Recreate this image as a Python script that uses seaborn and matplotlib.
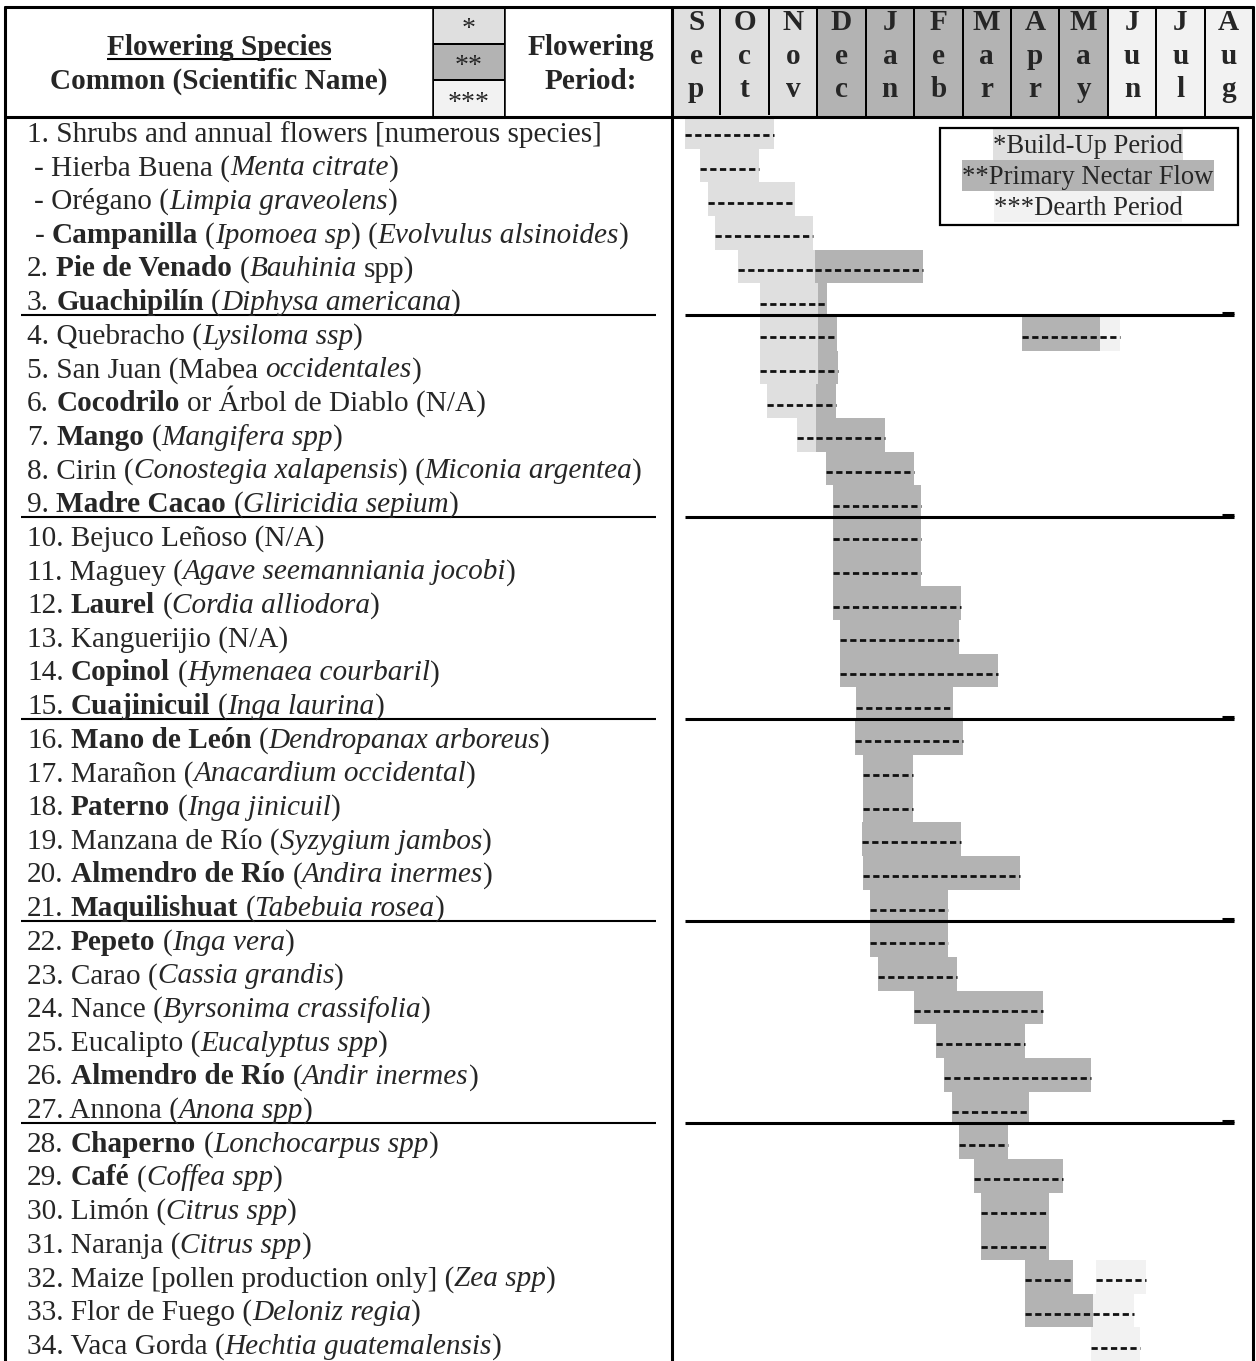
import matplotlib
matplotlib.use("Agg")
import numpy as np
import pandas as pd
import matplotlib.pyplot as plt
from matplotlib.colors import ListedColormap
from matplotlib.patches import Rectangle
import seaborn as sns

# ---------------- data ----------------
months = ["Sep", "Oct", "Nov", "Dec", "Jan", "Feb", "Mar", "Apr", "May", "Jun", "Jul", "Aug"]
month_phase = [0, 0, 0, 1, 1, 1, 1, 1, 1, 2, 2, 2]
phase_stars = ["*", "**", "***"]
phase_labels = ["*Build-Up Period", "**Primary Nectar Flow", "***Dearth Period"]
phase_colors = ["#dfdfdf", "#b3b3b3", "#f2f2f2"]

header_species = ["Flowering Species", "Common (Scientific Name)"]
header_period = ["Flowering", "Period:"]

species = [
    [("1. Shrubs and annual flowers [numerous species]", "n")],
    [(" - Hierba Buena (", "n"), ("Menta citrate", "i"), (")", "n")],
    [(" - Orégano (", "n"), ("Limpia graveolens", "i"), (")", "n")],
    [(" - ", "n"), ("Campanilla", "b"), (" (", "n"), ("Ipomoea sp", "i"), (") (", "n"), ("Evolvulus alsinoides", "i"), (")", "n")],
    [("2. ", "n"), ("Pie de Venado", "b"), (" (", "n"), ("Bauhinia", "i"), (" spp)", "n")],
    [("3. ", "n"), ("Guachipilín", "b"), (" (", "n"), ("Diphysa americana", "i"), (")", "n")],
    [("4. Quebracho (", "n"), ("Lysiloma ssp", "i"), (")", "n")],
    [("5. San Juan (Mabea ", "n"), ("occidentales", "i"), (")", "n")],
    [("6. ", "n"), ("Cocodrilo", "b"), (" or Árbol de Diablo (N/A)", "n")],
    [("7. ", "n"), ("Mango", "b"), (" (", "n"), ("Mangifera spp", "i"), (")", "n")],
    [("8. Cirin (", "n"), ("Conostegia xalapensis", "i"), (") (", "n"), ("Miconia argentea", "i"), (")", "n")],
    [("9. ", "n"), ("Madre Cacao", "b"), (" (", "n"), ("Gliricidia sepium", "i"), (")", "n")],
    [("10. Bejuco Leñoso (N/A)", "n")],
    [("11. Maguey (", "n"), ("Agave seemanniania jocobi", "i"), (")", "n")],
    [("12. ", "n"), ("Laurel", "b"), (" (", "n"), ("Cordia alliodora", "i"), (")", "n")],
    [("13. Kanguerijio (N/A)", "n")],
    [("14. ", "n"), ("Copinol", "b"), (" (", "n"), ("Hymenaea courbaril", "i"), (")", "n")],
    [("15. ", "n"), ("Cuajinicuil", "b"), (" (", "n"), ("Inga laurina", "i"), (")", "n")],
    [("16. ", "n"), ("Mano de León", "b"), (" (", "n"), ("Dendropanax arboreus", "i"), (")", "n")],
    [("17. Marañon (", "n"), ("Anacardium occidental", "i"), (")", "n")],
    [("18. ", "n"), ("Paterno", "b"), (" (", "n"), ("Inga jinicuil", "i"), (")", "n")],
    [("19. Manzana de Río (", "n"), ("Syzygium jambos", "i"), (")", "n")],
    [("20. ", "n"), ("Almendro de Río", "b"), (" (", "n"), ("Andira inermes", "i"), (")", "n")],
    [("21. ", "n"), ("Maquilishuat", "b"), (" (", "n"), ("Tabebuia rosea", "i"), (")", "n")],
    [("22. ", "n"), ("Pepeto", "b"), (" (", "n"), ("Inga vera", "i"), (")", "n")],
    [("23. Carao (", "n"), ("Cassia grandis", "i"), (")", "n")],
    [("24. Nance (", "n"), ("Byrsonima crassifolia", "i"), (")", "n")],
    [("25. Eucalipto (", "n"), ("Eucalyptus spp", "i"), (")", "n")],
    [("26. ", "n"), ("Almendro de Río", "b"), (" (", "n"), ("Andir inermes", "i"), (")", "n")],
    [("27. Annona (", "n"), ("Anona spp", "i"), (")", "n")],
    [("28. ", "n"), ("Chaperno", "b"), (" (", "n"), ("Lonchocarpus spp", "i"), (")", "n")],
    [("29. ", "n"), ("Café", "b"), (" (", "n"), ("Coffea spp", "i"), (")", "n")],
    [("30. Limón (", "n"), ("Citrus spp", "i"), (")", "n")],
    [("31. Naranja (", "n"), ("Citrus spp", "i"), (")", "n")],
    [("32. Maize [pollen production only] (", "n"), ("Zea spp", "i"), (")", "n")],
    [("33. Flor de Fuego (", "n"), ("Deloniz regia", "i"), (")", "n")],
    [("34. Vaca Gorda (", "n"), ("Hechtia guatemalensis", "i"), (")", "n")],
]
underlined_rows = [5, 11, 17, 23, 29]

# flowering segments (row index, start / end in months from start of Sep, phase)
seg_row = [0, 1, 2, 3, 4, 4, 5, 5, 6, 6, 6, 6, 7, 7, 8, 8, 9, 9,
           10, 11, 12, 13, 14, 15, 16, 17, 18, 19, 20, 21, 22, 23, 24, 25,
           26, 27, 28, 29, 30, 31, 32, 33, 34, 34, 35, 35, 36]
seg_start = [0.27, 0.58, 0.74, 0.89, 1.36, 2.95, 1.81, 3.01, 1.81, 3.01, 7.23, 8.84,
             1.81, 3.01, 1.96, 2.98, 2.58, 2.98,
             3.18, 3.33, 3.33, 3.33, 3.33, 3.47, 3.47, 3.80, 3.78, 3.95, 3.95, 3.93,
             3.95, 4.09, 4.09, 4.26, 5.00, 5.46, 5.61, 5.78, 5.92, 6.24, 6.38, 6.38,
             7.29, 8.76, 7.29, 8.70, 8.66]
seg_end = [2.10, 1.80, 2.54, 2.91, 2.95, 5.19, 3.01, 3.20, 3.01, 3.40, 8.84, 9.26,
           3.01, 3.43, 2.98, 3.39, 2.98, 4.40,
           5.00, 5.14, 5.14, 5.14, 5.96, 5.93, 6.74, 5.81, 6.02, 4.97, 4.97, 5.96,
           7.19, 5.70, 5.71, 5.89, 7.67, 7.29, 8.66, 7.38, 6.94, 8.07, 7.79, 7.79,
           8.29, 9.79, 8.70, 9.54, 9.67]
seg_phase = [0, 0, 0, 0, 0, 1, 0, 1, 0, 1, 1, 2, 0, 1, 0, 1, 0, 1,
             1, 1, 1, 1, 1, 1, 1, 1, 1, 1, 1, 1, 1, 1, 1, 1, 1, 1, 1, 1, 1, 1, 1, 1,
             1, 2, 1, 2, 2]

# ---------------- style ----------------
sns.set_theme(style="white")
plt.rcParams["font.family"] = ["Liberation Serif", "DejaVu Serif"]
plt.rcParams["lines.scale_dashes"] = False

W, H = 1256, 1361
FS = 21.1      # row / header text
FS_LEG = 19.2  # legend text
THICK = 2.2
THIN = 1.1

fig = plt.figure(figsize=(W / 100, H / 100), dpi=100)
fig.patch.set_facecolor("white")

# overlay axes in pixel coordinates (for text and rules)
bg = fig.add_axes([0, 0, 1, 1])
bg.set_xlim(0, W)
bg.set_ylim(H, 0)
bg.axis("off")
bg.patch.set_visible(False)
bg.set_zorder(5)

renderer = fig.canvas.get_renderer()
STY = {"n": dict(fontweight="normal", fontstyle="normal"),
       "b": dict(fontweight="bold", fontstyle="normal"),
       "i": dict(fontweight="normal", fontstyle="italic")}


def tw(s, st, fs):
    t = bg.text(0, 0, s, fontsize=fs, **STY[st])
    w = t.get_window_extent(renderer).width
    t.remove()
    return w


space_w = {st: tw("a a", st, FS) - tw("aa", st, FS) for st in STY}


def draw_rich(x, y, parts, fs=FS):
    for s, st in parts:
        core = s.strip(" ")
        lead = len(s) - len(s.lstrip(" "))
        trail = len(s) - len(s.rstrip(" "))
        x += lead * space_w[st]
        if core:
            t = bg.text(x, y, core, fontsize=fs, va="baseline", ha="left", **STY[st])
            x += t.get_window_extent(renderer).width
        x += trail * space_w[st]
    return x


# ---------------- geometry ----------------
X_CHART0, X_CHART1 = 672, 1253
Y_HDR0, Y_HDR1 = 7, 117
Y_BODY0 = 115
X_STAR0, X_STAR1 = 433, 505
n_rows = len(species)
row_h = (H - Y_BODY0) / n_rows

# ---------------- header: month band (seaborn heatmap) ----------------
cmap = ListedColormap(phase_colors)
hx = fig.add_axes([X_CHART0 / W, 1 - Y_HDR1 / H, (X_CHART1 - X_CHART0) / W, (Y_HDR1 - Y_HDR0) / H])
sns.heatmap(np.array([month_phase]), cmap=cmap, vmin=-0.5, vmax=2.5, cbar=False,
            linewidths=1.4, linecolor="black", xticklabels=False, yticklabels=False, ax=hx)
hx.axis("off")

# star column
sx = fig.add_axes([X_STAR0 / W, 1 - Y_HDR1 / H, (X_STAR1 - X_STAR0) / W, (Y_HDR1 - Y_HDR0) / H])
sns.heatmap(np.array([[0], [1], [2]]), cmap=cmap, vmin=-0.5, vmax=2.5, cbar=False,
            linewidths=1.4, linecolor="black", xticklabels=False, yticklabels=False, ax=sx)
sx.axis("off")

# month letters
col_w = (X_CHART1 - X_CHART0) / 12
for k, m in enumerate(months):
    cx = X_CHART0 + (k + 0.5) * col_w
    for j, ch in enumerate(m):
        bg.text(cx, 30 + j * 33.5, ch, fontsize=FS, fontweight="bold", ha="center", va="baseline")

for j, s in enumerate(phase_stars):
    bg.text((X_STAR0 + X_STAR1) / 2, 36 + j * 37, s, fontsize=FS * 0.95, ha="center", va="baseline")

cx_sp = (5 + X_STAR0) / 2
t1 = bg.text(cx_sp, 55, header_species[0], fontsize=FS, fontweight="bold", ha="center", va="baseline")
bg.text(cx_sp, 89, header_species[1], fontsize=FS, fontweight="bold", ha="center", va="baseline")
w1 = t1.get_window_extent(renderer).width
bg.plot([cx_sp - w1 / 2, cx_sp + w1 / 2], [58.5, 58.5], color="black", lw=1.5, solid_capstyle="butt")
cx_fp = (X_STAR1 + X_CHART0) / 2
bg.text(cx_fp + 2, 55, header_period[0], fontsize=FS, fontweight="bold", ha="center", va="baseline")
bg.text(cx_fp + 2, 89, header_period[1], fontsize=FS, fontweight="bold", ha="center", va="baseline")

# ---------------- body: Gantt bars ----------------
df = pd.DataFrame(dict(row=seg_row, start=seg_start, end=seg_end, phase=seg_phase))
gx = fig.add_axes([X_CHART0 / W, 0, (X_CHART1 - X_CHART0) / W, (H - Y_BODY0) / H])
gx.set_xlim(0, 12)
gx.set_ylim(n_rows - 0.5, -0.5)
gx.axis("off")
gx.barh(df["row"], df["end"] - df["start"], left=df["start"], height=1.0,
        color=[phase_colors[p] for p in df["phase"]], linewidth=0, antialiased=False)
gx.hlines(df["row"] + 0.1, df["start"], df["end"], colors="#111111", linewidth=2.0,
          linestyles=(0, (4.5, 2.5)), capstyle="butt")

# species labels
for i, parts in enumerate(species):
    y_top = Y_BODY0 + i * row_h
    draw_rich(27, y_top + 26.5, parts)

# group rules (underlines)
for r in underlined_rows:
    yl = Y_BODY0 + (r + 1) * row_h - 2.5
    bg.plot([21, 656], [yl, yl], color="black", lw=1.5, solid_capstyle="butt")
    bg.plot([685, 1234], [yl, yl], color="black", lw=2.2, solid_capstyle="butt")
    bg.plot([1222, 1234], [yl - 1.5, yl - 1.5], color="black", lw=2.2, solid_capstyle="butt")

# ---------------- table borders ----------------
bg.plot([5, 5], [Y_HDR0, H], color="black", lw=THICK)
bg.plot([X_CHART0, X_CHART0], [Y_HDR0, H], color="black", lw=THICK)
bg.plot([X_CHART1, X_CHART1], [Y_HDR0, H], color="black", lw=THICK)
bg.plot([5, X_CHART1], [Y_HDR0, Y_HDR0], color="black", lw=THICK)
bg.plot([5, X_CHART1], [Y_HDR1, Y_HDR1], color="black", lw=THICK)
bg.plot([X_STAR0, X_STAR0], [Y_HDR0, Y_HDR1], color="black", lw=THIN)
bg.plot([X_STAR1, X_STAR1], [Y_HDR0, Y_HDR1], color="black", lw=THIN)

# ---------------- legend box ----------------
LX0, LX1, LY0 = 940, 1238, 128
leg_h = 31
lcx = (LX0 + LX1) / 2 - 1
for j, lab in enumerate(phase_labels):
    t = bg.text(lcx, LY0 + j * leg_h + 25, lab, fontsize=FS_LEG, ha="center", va="baseline")
    w = t.get_window_extent(renderer).width
    bg.add_patch(Rectangle((lcx - w / 2, LY0 + j * leg_h + 1), w, leg_h,
                           facecolor=phase_colors[j], edgecolor="none", zorder=0))
bg.add_patch(Rectangle((LX0, LY0), LX1 - LX0, 3 * leg_h + 4, facecolor="none",
                       edgecolor="black", lw=1.6, zorder=3))

fig.savefig("out.png", dpi=100)
